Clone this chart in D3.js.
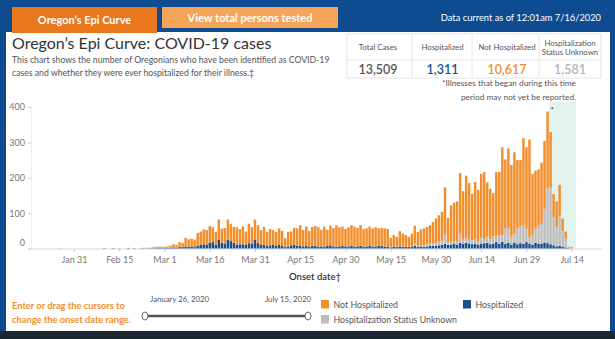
<!DOCTYPE html>
<html><head><meta charset="utf-8">
<script src="https://cdn.jsdelivr.net/npm/d3@7"></script>
<style>
body{margin:0;background:#0e4b91;}
svg{display:block;font-family:Lato,"Open Sans",sans-serif;}
</style></head><body>
<svg id="c" width="615" height="339"></svg>
<script>
// ---------- DATA (one value per onset day, starting Jan 26, 2020) ----------
const startDate = "2020-01-26";
const hospitalized = [
  0,0,0,0,0,0,
  0,0,0,0,0,0,0,0,0,1,0,0,1,0,0,0,0,1,0,1,0,0,1,0,1,1,1,2,2,
  2,2,2,3,2,4,4,6,5,6,4,8,10,12,10,16,18,11,24,16,14,25,21,16,11,12,12,10,15,13,24,
  15,11,10,7,9,10,8,10,7,4,6,9,10,8,7,6,7,5,7,8,5,6,5,7,9,6,5,6,7,6,
  6,7,5,6,8,5,6,7,5,6,8,7,5,6,3,5,4,6,5,5,4,5,7,5,6,5,6,8,8,7,9,
  10,13,10,11,14,10,16,13,16,14,12,13,11,14,15,16,12,14,18,14,19,13,16,11,17,12,15,13,18,14,
  11,16,14,14,17,15,12,9,6,7,5,3,1,0,0
];
const unknownStatus = [
  0,0,0,0,0,0,
  0,0,0,0,0,0,0,0,0,0,0,0,0,0,0,0,0,0,0,0,0,0,0,0,0,0,0,0,0,
  0,0,0,0,0,0,0,0,0,0,0,0,0,0,0,0,0,0,0,0,0,0,0,0,0,0,0,0,0,0,0,
  0,0,0,0,0,0,0,0,0,0,0,0,0,0,0,0,0,0,0,0,0,0,0,0,0,0,0,0,0,0,
  1,0,1,0,2,0,1,0,0,1,0,1,0,1,0,0,1,0,2,0,1,0,8,3,4,5,6,5,7,8,10,
  12,28,8,10,7,10,26,12,14,11,12,14,10,16,12,18,14,20,16,24,18,45,40,22,25,45,48,52,38,18,
  28,40,52,56,95,155,160,80,55,85,45,25,2,1,0
];
const notHospitalized = [
  1,0,0,0,0,0,
  0,0,0,0,0,0,0,0,0,0,0,0,0,0,1,0,0,1,0,0,0,1,1,2,1,2,3,3,3,
  3,4,6,9,8,14,12,24,21,22,21,36,38,42,42,47,42,36,58,40,44,57,49,45,49,43,50,38,55,47,58,
  51,41,51,40,46,42,39,47,43,25,41,39,48,49,59,46,55,45,54,56,55,47,57,46,56,52,61,54,55,49,
  53,59,56,52,56,50,50,55,52,53,49,50,52,48,27,33,28,43,35,33,28,37,49,39,44,47,49,53,60,70,75,
  82,132,68,101,108,113,171,137,176,160,130,161,145,181,189,153,143,123,182,178,249,194,227,203,230,193,187,247,230,276,
  172,164,158,173,192,217,157,65,72,88,35,20,2,3,0
];
const tickLabels = ["Jan 31","Feb 15","Mar 1","Mar 16","Mar 31","Apr 15","Apr 30","May 15","May 30","Jun 14","Jun 29","Jul 14"];
const yTicks = [0,100,200,300,400];
const statLabels = [["Total Cases"],["Hospitalized"],["Not Hospitalized"],["Hospitalization","Status Unknown"]];
const statValues = ["13,509","1,311","10,617","1,581"];
const provisionalRange = ["2020-07-07","2020-07-15"];
const sliderLabels = ["January 26, 2020","July 15, 2020"];
const legendItems = ["Not Hospitalized","Hospitalization Status Unknown","Hospitalized"];

// ---------- STYLE ----------
const C = {orange:"#f28e2b", grey:"#bdbdbd", blue:"#1a4f8c", frame:"#0e4b91"};
const seriesKeys = ["hosp","unk","not"];
const seriesColor = {hosp:C.blue, unk:C.grey, not:C.orange};

const svg = d3.select("#c");
const W = 615, H = 339;
const parse = d3.timeParse("%Y-%m-%d");
const start = parse(startDate);
const rows = hospitalized.map((h,i)=>({date:d3.timeDay.offset(start,i), hosp:h, unk:unknownStatus[i], not:notHospitalized[i]}));

// frame
svg.append("rect").attr("width",W).attr("height",H).attr("fill",C.frame);
svg.append("rect").attr("x",6).attr("y",32).attr("width",604).attr("height",299).attr("fill","#fff");
svg.append("rect").attr("x",0).attr("y",331).attr("width",W).attr("height",8).attr("fill","#1d2733");

// tabs
svg.append("rect").attr("x",12).attr("y",7).attr("width",145).attr("height",26).attr("fill","#e8771d");
svg.append("text").attr("x",84.5).attr("y",23.5).attr("text-anchor","middle").attr("fill","#fff")
  .attr("font-size",11).attr("font-weight",700).text("Oregon’s Epi Curve");
svg.append("rect").attr("x",162).attr("y",7).attr("width",176).attr("height",21).attr("fill","#f6a457");
svg.append("text").attr("x",250).attr("y",21.5).attr("text-anchor","middle").attr("fill","#fff")
  .attr("font-size",11).attr("font-weight",700).text("View total persons tested");
svg.append("text").attr("x",601).attr("y",20.5).attr("text-anchor","end").attr("fill","#fff")
  .attr("font-size",9.3).text("Data current as of 12:01am 7/16/2020");

// title
svg.append("text").attr("x",12).attr("y",49).attr("fill","#333").attr("font-size",16).text("Oregon’s Epi Curve: COVID-19 cases");
svg.append("text").attr("x",12).attr("y",62.5).attr("fill","#555").attr("font-size",8.7)
  .text("This chart shows the number of Oregonians who have been identified as COVID-19");
svg.append("text").attr("x",12).attr("y",75.5).attr("fill","#555").attr("font-size",8.7)
  .text("cases and whether they were ever hospitalized for their illness.‡");

// stats box
const colCenters = [378, 442.5, 507, 570];
const colEdges = [347, 412, 472, 539, 601];
const box = svg.append("g");
box.append("rect").attr("x",347).attr("y",34).attr("width",254).attr("height",44).attr("fill","#fff").attr("stroke","#e3e3e3");
colEdges.slice(1,-1).forEach(x=>box.append("line").attr("x1",x).attr("x2",x).attr("y1",35).attr("y2",77).attr("stroke","#e6e6e6"));
box.append("line").attr("x1",347).attr("x2",601).attr("y1",60).attr("y2",60).attr("stroke","#e6e6e6");
const statColors = ["#555",C.blue,C.orange,"#b3b3b3"];
statLabels.forEach((lines,i)=>{
  lines.forEach((t,j)=>{
    box.append("text").attr("x",colCenters[i]).attr("y",lines.length===1?50:45.5+j*9.5)
      .attr("text-anchor","middle").attr("fill","#555").attr("font-size",7.8).text(t);
  });
  box.append("text").attr("x",colCenters[i]).attr("y",73.5).attr("text-anchor","middle")
    .attr("fill",statColors[i]).attr("font-size",12.5).attr("font-weight",600).text(statValues[i]);
});
svg.append("text").attr("x",576).attr("y",86).attr("text-anchor","end").attr("fill","#555").attr("font-size",8.3)
  .text("*Illnesses that began during this time");
svg.append("text").attr("x",576).attr("y",99.5).attr("text-anchor","end").attr("fill","#555").attr("font-size",8.3)
  .text("period may not yet be reported.");

// ---------- CHART ----------
const tickDates = tickLabels.map(t=>d3.timeParse("%b %d %Y")(t+" 2020"));
const x = d3.scaleTime().domain([tickDates[0], tickDates[tickDates.length-1]]).range([74, 571.7]);
const y = d3.scaleLinear().domain([0,400]).range([248.5,107]);
const dayW = x(d3.timeDay.offset(tickDates[0],1)) - x(tickDates[0]);
const bw = dayW*0.82;

// provisional shading
const p0 = parse(provisionalRange[0]), p1 = parse(provisionalRange[1]);
svg.append("rect").attr("x",x(p0)-dayW/2).attr("y",101.5).attr("width",x(p1)-x(p0)+dayW).attr("height",y(0)-101.5)
  .attr("fill","#e2f3ed");

// x axis line
svg.append("line").attr("x1",30).attr("x2",602).attr("y1",y(0)+0.5).attr("y2",y(0)+0.5).attr("stroke","#d9d9d9");

// bars
const stack = d3.stack().keys(seriesKeys)(rows);
svg.append("g").selectAll("g").data(stack).join("g").attr("fill",d=>seriesColor[d.key])
  .selectAll("rect").data(d=>d.filter(v=>v[1]>v[0])).join("rect")
  .attr("x",d=>x(d.data.date)-bw/2).attr("width",bw)
  .attr("y",d=>y(d[1])).attr("height",d=>y(d[0])-y(d[1]));

// asterisk at peak of reported period
const peak = rows.filter(r=>r.date<p0).reduce((a,b)=>(a.hosp+a.unk+a.not)>=(b.hosp+b.unk+b.not)?a:b);
svg.append("text").attr("x",x(peak.date)+3).attr("y",y(peak.hosp+peak.unk+peak.not)+1)
  .attr("fill","#333").attr("font-size",8).text("*");

// axes
const xAxis = svg.append("g").attr("transform",`translate(0,${y(0)+0.5})`)
  .call(d3.axisBottom(x).tickValues(tickDates).tickFormat((d,i)=>tickLabels[i]).tickSize(3).tickPadding(5));
xAxis.select(".domain").remove();
xAxis.selectAll("line").attr("stroke","#ccc");
xAxis.selectAll("text").attr("fill","#777").attr("font-size",9).attr("font-family","Lato,sans-serif");

const yAxis = svg.append("g").attr("transform","translate(31,0)")
  .call(d3.axisLeft(y).tickValues(yTicks).tickSize(3).tickPadding(3));
yAxis.select(".domain").attr("stroke","#eee");
yAxis.selectAll("line").attr("stroke","#ccc");
yAxis.selectAll("text").attr("fill","#777").attr("font-size",9).attr("font-family","Lato,sans-serif");
yAxis.selectAll(".tick").filter(d=>d===0).select("text").attr("dy","-0.3em");

svg.append("text").attr("x",315).attr("y",280).attr("text-anchor","middle").attr("fill","#333")
  .attr("font-size",9.5).attr("font-weight",600).text("Onset date†");

// ---------- bottom controls ----------
svg.append("text").attr("x",12).attr("y",309).attr("fill",C.orange).attr("font-size",9.3).attr("font-weight",700)
  .text("Enter or drag the cursors to");
svg.append("text").attr("x",12).attr("y",322.5).attr("fill",C.orange).attr("font-size",9.3).attr("font-weight",700)
  .text("change the onset date range.");
svg.append("text").attr("x",150).attr("y",302).attr("fill","#555").attr("font-size",7.8).text(sliderLabels[0]);
svg.append("text").attr("x",311).attr("y",302).attr("text-anchor","end").attr("fill","#555").attr("font-size",7.8).text(sliderLabels[1]);
svg.append("line").attr("x1",145).attr("x2",308).attr("y1",316).attr("y2",316).attr("stroke","#555").attr("stroke-width",2.5);
[145,308].forEach(cx=>svg.append("ellipse").attr("cx",cx).attr("cy",316).attr("rx",3).attr("ry",4)
  .attr("fill","#fff").attr("stroke","#666").attr("stroke-width",1));

const legendPos = [[321,300],[321,315],[463,300]];
const legendColors = [C.orange,C.grey,C.blue];
legendItems.forEach((t,i)=>{
  svg.append("rect").attr("x",legendPos[i][0]).attr("y",legendPos[i][1]).attr("width",8).attr("height",8.5).attr("fill",legendColors[i]);
  svg.append("text").attr("x",legendPos[i][0]+12.5).attr("y",legendPos[i][1]+7.5).attr("fill","#555").attr("font-size",8.8).text(t);
});
</script>
</body></html>
